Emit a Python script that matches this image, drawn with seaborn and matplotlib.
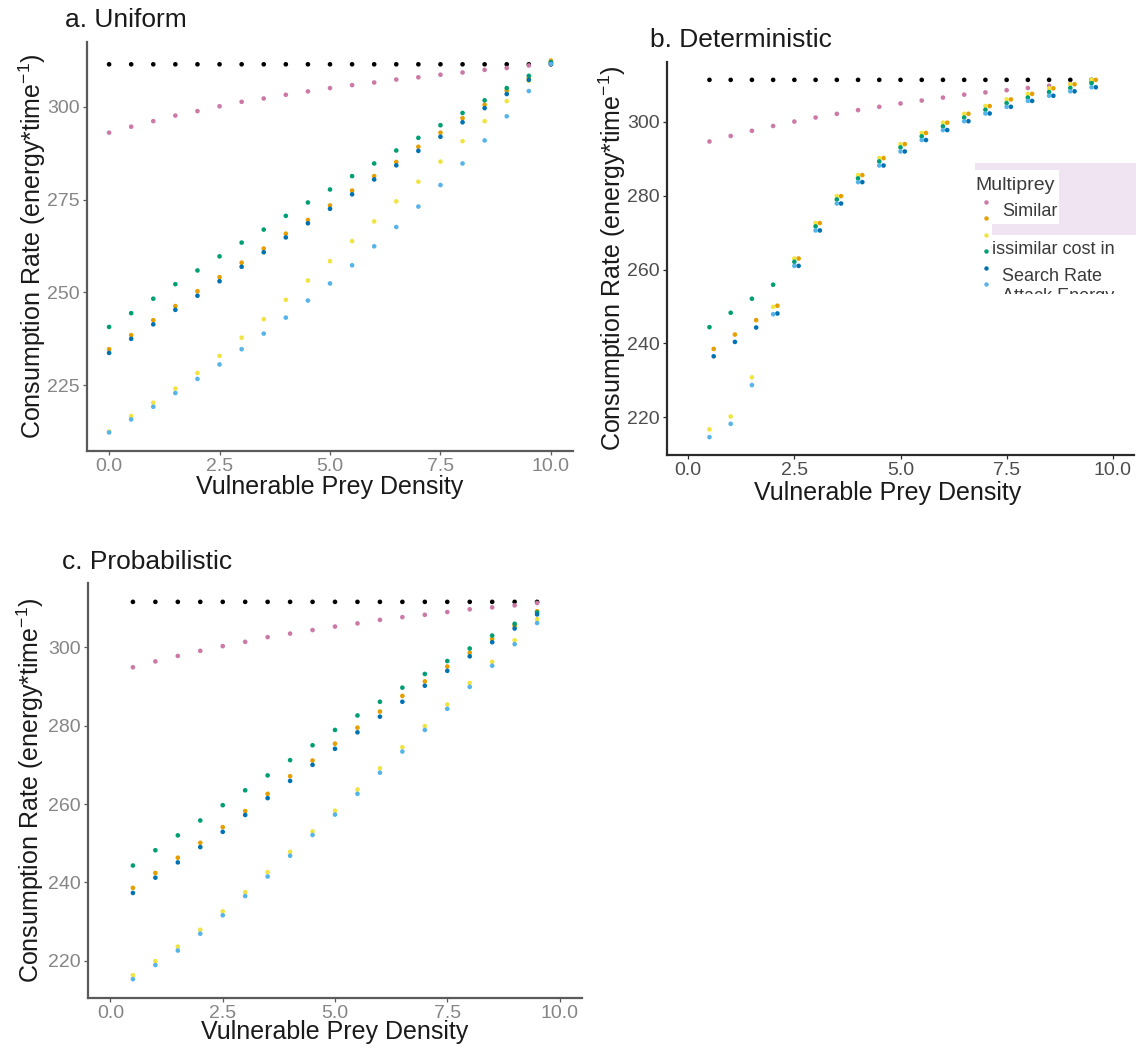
import matplotlib
matplotlib.use("Agg")
import matplotlib.pyplot as plt
from matplotlib.lines import Line2D
from matplotlib.patches import Rectangle
from matplotlib.transforms import Bbox
import pandas as pd
import seaborn as sns

sns.set_theme(style="white")
plt.rcParams["font.family"] = ["Liberation Sans", "DejaVu Sans"]
plt.rcParams["mathtext.fontset"] = "custom"
plt.rcParams["mathtext.rm"] = "Liberation Sans"
plt.rcParams["mathtext.default"] = "regular"

# ---------------------------------------------------------------- data
SERIES = ["Single prey", "Similar", "Dissimilar 1", "Dissimilar 2",
          "Dissimilar 3", "Dissimilar 4", "Dissimilar 5"]
COLORS = ["#000000", "#CC79A7", "#E69F00", "#F0E442",
          "#009E73", "#0072B2", "#56B4E9"]

# a. Uniform
DENSITY_A = [0.0, 0.5, 1.0, 1.5, 2.0, 2.5, 3.0, 3.5, 4.0, 4.5, 5.0,
             5.5, 6.0, 6.5, 7.0, 7.5, 8.0, 8.5, 9.0, 9.5, 10.0]
A_SINGLE = [311.4, 311.4, 311.4, 311.4, 311.4, 311.4, 311.4, 311.4, 311.4, 311.4, 311.4,
            311.4, 311.4, 311.4, 311.4, 311.4, 311.4, 311.4, 311.4, 311.4, 311.4]
A_SIMILAR = [293.0, 294.6, 296.1, 297.6, 298.8, 300.1, 301.3, 302.2, 303.2, 304.1, 305.0,
             305.8, 306.5, 307.3, 307.9, 308.6, 309.2, 309.9, 310.4, 311.1, 311.8]
A_ORANGE = [234.7, 238.5, 242.5, 246.3, 250.3, 254.1, 258.0, 261.8, 265.8, 269.5, 273.4,
            277.4, 281.3, 285.1, 289.2, 293.0, 296.9, 300.5, 304.3, 307.7, 312.4]
A_YELLOW = [212.5, 216.7, 220.3, 224.1, 228.3, 232.9, 237.8, 242.8, 248.0, 253.2, 258.4,
            263.8, 269.1, 274.5, 279.8, 285.2, 290.7, 296.1, 301.5, 307.0, 312.0]
A_GREEN = [240.7, 244.4, 248.3, 252.2, 255.9, 259.7, 263.4, 266.9, 270.6, 274.2, 277.7,
           281.3, 284.7, 288.2, 291.6, 295.0, 298.3, 301.7, 305.0, 308.3, 312.0]
A_BLUE = [233.7, 237.5, 241.4, 245.3, 249.1, 253.0, 256.9, 260.8, 264.8, 268.6, 272.5,
          276.4, 280.4, 284.2, 288.1, 291.9, 295.8, 299.6, 303.4, 307.2, 311.7]
A_SKY = [212.3, 215.8, 219.2, 222.9, 226.7, 230.6, 234.7, 238.9, 243.2, 247.8, 252.4,
         257.3, 262.4, 267.6, 273.1, 278.9, 284.7, 290.9, 297.4, 304.2, 311.5]

# b. Deterministic
DENSITY_B = [0.5, 1.0, 1.5, 2.0, 2.5, 3.0, 3.5, 4.0, 4.5, 5.0,
             5.5, 6.0, 6.5, 7.0, 7.5, 8.0, 8.5, 9.0, 9.5]
B_SINGLE = [311.4, 311.4, 311.4, 311.4, 311.4, 311.4, 311.4, 311.4, 311.4, 311.4,
            311.4, 311.4, 311.4, 311.4, 311.4, 311.4, 311.4, 311.4, 311.4]
B_SIMILAR = [294.7, 296.2, 297.6, 298.9, 300.1, 301.2, 302.2, 303.2, 304.1, 305.0,
             305.8, 306.6, 307.4, 308.0, 308.6, 309.2, 309.8, 310.3, 310.9]
B_ORANGE = [238.5, 242.4, 246.3, 250.2, 263.0, 272.6, 279.9, 285.6, 290.2, 294.0,
            297.0, 299.8, 302.2, 304.3, 306.1, 307.6, 309.1, 310.2, 311.4]
B_YELLOW = [216.7, 220.2, 230.8, 249.9, 263.0, 272.6, 279.9, 285.6, 290.2, 294.0,
            297.0, 299.8, 302.2, 304.3, 306.1, 307.6, 309.1, 310.2, 311.4]
B_GREEN = [244.4, 248.3, 252.1, 255.9, 262.1, 271.7, 279.0, 284.7, 289.3, 293.1,
           296.1, 298.8, 301.2, 303.3, 305.1, 306.6, 308.1, 309.2, 310.5]
B_BLUE = [236.5, 240.4, 244.3, 248.1, 261.0, 270.6, 277.9, 283.7, 288.2, 292.0,
          295.1, 297.8, 300.2, 302.3, 304.1, 305.7, 307.1, 308.3, 309.4]
B_SKY = [214.6, 218.2, 228.7, 247.9, 261.0, 270.6, 277.9, 283.7, 288.2, 292.0,
         295.1, 297.8, 300.2, 302.3, 304.1, 305.7, 307.1, 308.3, 309.4]

# c. Probabilistic
DENSITY_C = [0.5, 1.0, 1.5, 2.0, 2.5, 3.0, 3.5, 4.0, 4.5, 5.0,
             5.5, 6.0, 6.5, 7.0, 7.5, 8.0, 8.5, 9.0, 9.5]
C_SINGLE = [311.6, 311.6, 311.6, 311.6, 311.6, 311.6, 311.6, 311.6, 311.6, 311.6,
            311.6, 311.6, 311.6, 311.6, 311.6, 311.6, 311.6, 311.6, 311.6]
C_SIMILAR = [294.9, 296.4, 297.8, 299.1, 300.3, 301.4, 302.6, 303.5, 304.4, 305.3,
             306.1, 307.0, 307.7, 308.3, 309.0, 309.7, 310.2, 310.7, 311.3]
C_ORANGE = [238.6, 242.4, 246.3, 250.1, 254.1, 258.2, 262.6, 267.1, 271.1, 275.4,
            279.5, 283.6, 287.6, 291.3, 295.1, 298.6, 302.1, 305.5, 309.2]
C_YELLOW = [216.3, 219.9, 223.6, 227.9, 232.6, 237.5, 242.6, 247.8, 253.0, 258.3,
            263.7, 269.1, 274.5, 279.9, 285.4, 290.9, 296.3, 301.8, 307.2]
C_GREEN = [244.3, 248.2, 252.0, 255.8, 259.7, 263.5, 267.3, 271.2, 275.0, 278.9,
           282.6, 286.1, 289.7, 293.2, 296.5, 299.7, 303.0, 306.0, 308.9]
C_BLUE = [237.3, 241.2, 245.1, 249.0, 252.9, 257.2, 261.5, 265.9, 270.0, 274.1,
          278.3, 282.3, 286.1, 290.2, 294.0, 297.7, 301.3, 304.8, 308.4]
C_SKY = [215.3, 218.9, 222.6, 226.9, 231.6, 236.5, 241.5, 246.8, 252.1, 257.3,
         262.6, 268.0, 273.4, 278.9, 284.3, 289.9, 295.3, 300.8, 306.2]

X_TICKS = [0.0, 2.5, 5.0, 7.5, 10.0]
Y_TICKS_A = [225, 250, 275, 300]
Y_TICKS_BC = [220, 240, 260, 280, 300]

LEGEND_TITLE = "Multiprey"

# ---------------------------------------------------------------- figure
W, H, DPI = 1136, 1051, 100
fig = plt.figure(figsize=(W / DPI, H / DPI), dpi=DPI)
fig.patch.set_facecolor("white")


def px_axes(left, top, right, bottom):
    return fig.add_axes([left / W, 1 - bottom / H, (right - left) / W, (bottom - top) / H])


def long_frame(density, values, dodge=None):
    rows = []
    for name, vals in zip(SERIES, values):
        shift = (dodge or {}).get(name, 0.0)
        for x, y in zip(density, vals):
            rows.append({"density": x + shift, "rate": y, "series": name})
    return pd.DataFrame(rows)


def draw_panel(ax, df, yticks, tick_color, spine_color, xlab_pos, ylab_pos):
    sns.scatterplot(data=df, x="density", y="rate", hue="series",
                    hue_order=SERIES, palette=COLORS, s=11, linewidth=0,
                    legend=False, ax=ax)
    ax.set_xlim(-0.5, 10.5)
    ax.margins(y=0.05)
    ax.set_xticks(X_TICKS)
    ax.set_xticklabels([f"{t:.1f}" for t in X_TICKS])
    ax.set_yticks(yticks)
    for side in ("top", "right"):
        ax.spines[side].set_visible(False)
    for side in ("left", "bottom"):
        ax.spines[side].set_color(spine_color)
        ax.spines[side].set_linewidth(1.6)
    ax.tick_params(axis="both", which="major", direction="out", length=3,
                   width=0.9, color=spine_color, labelsize=14,
                   labelcolor=tick_color, pad=2, bottom=True, left=True)
    ax.set_xlabel("Vulnerable Prey Density", fontsize=18, color="#1a1a1a")
    ax.set_ylabel("Consumption Rate (energy*time$^{-1}$)", fontsize=18,
                  color="#1a1a1a")
    ax.xaxis.set_label_coords(*xlab_pos)
    ax.xaxis.label.set_verticalalignment("center")
    ax.yaxis.set_label_coords(*ylab_pos)
    ax.yaxis.label.set_verticalalignment("center")
    ax.grid(False)
    ax.set_facecolor("white")


# a. Uniform
ax_a = px_axes(87, 42, 573, 451)
draw_panel(ax_a,
           long_frame(DENSITY_A, [A_SINGLE, A_SIMILAR, A_ORANGE, A_YELLOW,
                                  A_GREEN, A_BLUE, A_SKY]),
           Y_TICKS_A, "#858585", "#5a5a5a", (0.5, -0.088), (-0.113, 0.5))

# b. Deterministic (orange and dark blue series dodged to the right)
ax_b = px_axes(667, 62, 1134, 455)
draw_panel(ax_b,
           long_frame(DENSITY_B, [B_SINGLE, B_SIMILAR, B_ORANGE, B_YELLOW,
                                  B_GREEN, B_BLUE, B_SKY],
                      dodge={"Dissimilar 1": 0.1, "Dissimilar 4": 0.1}),
           Y_TICKS_BC, "#4D4D4D", "#2a2a2a", (0.472, -0.097), (-0.118, 0.5))

# c. Probabilistic
ax_c = px_axes(88, 583, 582, 998)
draw_panel(ax_c,
           long_frame(DENSITY_C, [C_SINGLE, C_SIMILAR, C_ORANGE, C_YELLOW,
                                  C_GREEN, C_BLUE, C_SKY]),
           Y_TICKS_BC, "#858585", "#5a5a5a", (0.5, -0.082), (-0.117, 0.5))

# panel titles
for txt, x, y in [("a. Uniform", 65, 20), ("b. Deterministic", 650, 40),
                  ("c. Probabilistic", 62, 562)]:
    fig.text(x / W, 1 - y / H, txt, fontsize=19, color="#1a1a1a",
             ha="left", va="center")

# ---------------------------------------------------------------- legend
fig.add_artist(Rectangle((975 / W, 1 - 235 / H), (W - 975) / W, 72 / H,
                         transform=fig.transFigure, facecolor="#F0E4F3",
                         edgecolor="none", zorder=5))
fig.add_artist(Rectangle((975 / W, 1 - 224 / H), 84 / W, 54 / H,
                         transform=fig.transFigure, facecolor="white",
                         edgecolor="none", zorder=6))
fig.add_artist(Rectangle((975 / W, 1 - 236 / H), 17 / W, 13 / H,
                         transform=fig.transFigure, facecolor="white",
                         edgecolor="none", zorder=6))

key_y = [201.5, 218, 234.5, 251, 267.5, 284]
for color, ky in zip(COLORS[1:], key_y):
    fig.add_artist(Line2D([986 / W], [1 - ky / H], transform=fig.transFigure,
                          marker="o", markersize=3.2, markeredgewidth=0,
                          color=color, linestyle="none", zorder=8))

legend_color = "#3a3a3a"
fig.text(975 / W, 1 - 185 / H, LEGEND_TITLE, fontsize=14, color=legend_color,
         ha="left", va="center", zorder=9)
fig.text(1002 / W, 1 - 211 / H, "Similar", fontsize=13, color=legend_color,
         ha="left", va="center", zorder=9)
t_dis = fig.text(979 / W, 1 - 250 / H, "Dissimilar cost in", fontsize=13,
                 color=legend_color, ha="left", va="center", zorder=9)
t_dis.set_clip_box(Bbox.from_extents(991, 0, W, H))
t_dis.set_clip_on(True)
fig.text(1002 / W, 1 - 276.5 / H, "Search Rate", fontsize=13,
         color=legend_color, ha="left", va="center", zorder=9)
t_att = fig.text(1002 / W, 1 - 301 / H, "Attack Energy", fontsize=13,
                 color=legend_color, ha="left", va="baseline", zorder=9)
t_att.set_clip_box(Bbox.from_extents(0, H - 294, W, H))
t_att.set_clip_on(True)

fig.savefig("out.png", dpi=DPI, facecolor="white")
